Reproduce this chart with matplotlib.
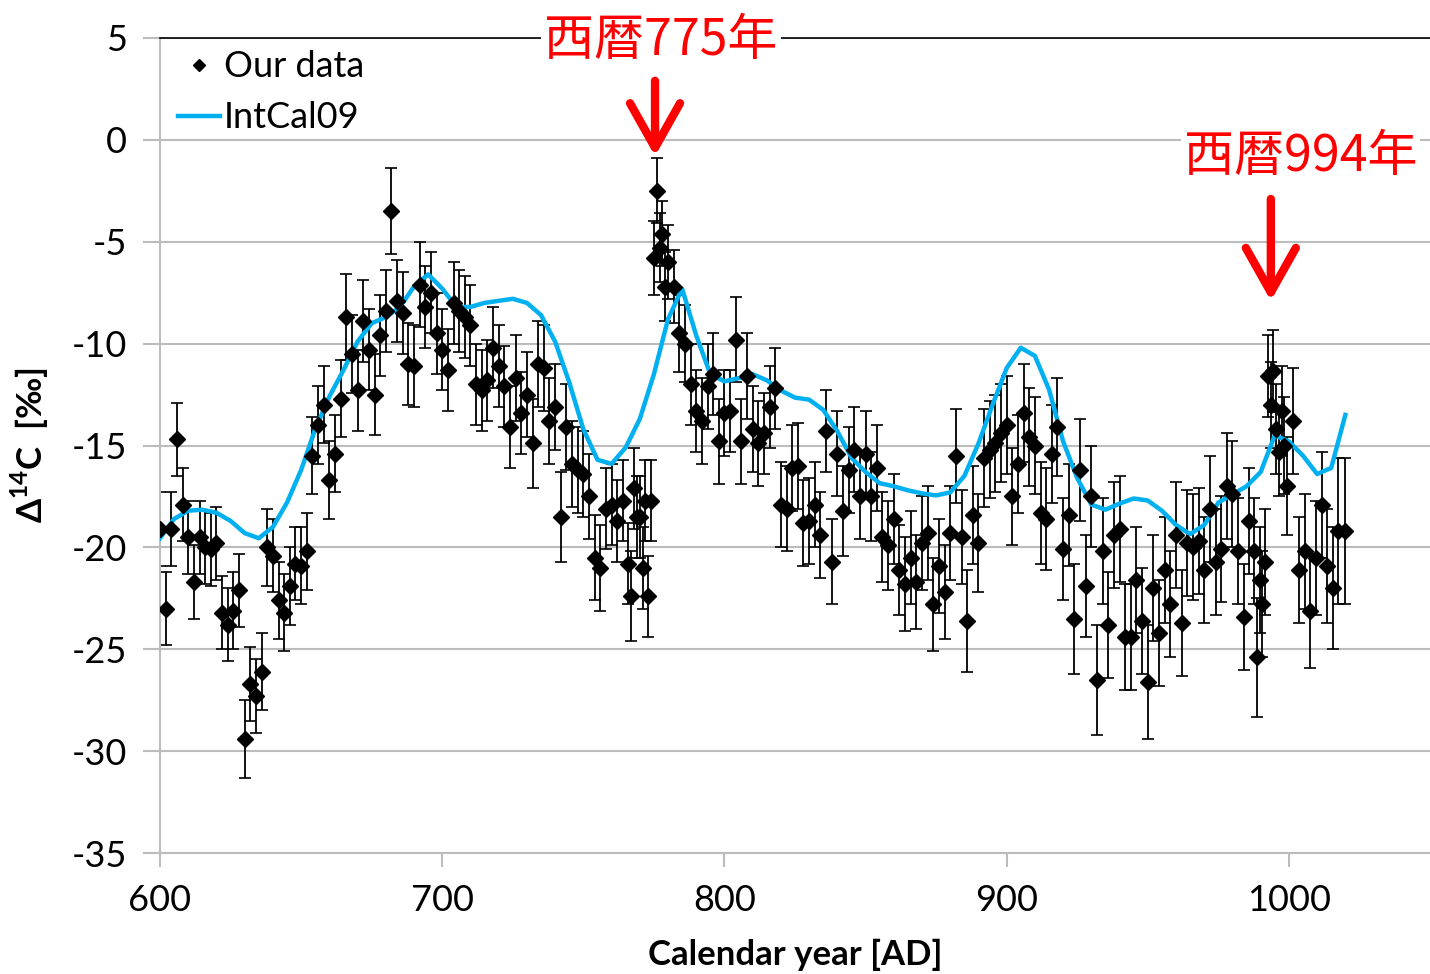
import matplotlib
matplotlib.use("Agg")
import matplotlib.pyplot as plt
from matplotlib.lines import Line2D

# Tree-ring D14C measurements (year AD, permil, 1-sigma)
years = [600, 602, 604, 606, 608, 610, 612, 614, 616, 618, 620, 622, 624, 626, 628,
         630, 632, 634, 636, 638, 640, 642, 644, 646, 648, 650, 652, 654, 656, 658,
         660, 662, 664, 666, 668, 670, 672, 674, 676, 678, 680, 682, 684, 686, 688,
         690, 692, 694, 696, 698, 700, 702, 704, 706, 708, 710, 712, 714, 716, 718,
         720, 722, 724, 726, 728, 730, 732, 734, 736, 738, 740, 742, 744, 746, 748,
         750, 752, 754, 756, 758, 760, 762, 764, 766, 767, 768, 769, 770, 771, 772,
         773, 774, 775, 776, 777, 778, 779, 780, 782, 784, 786, 788, 790, 792, 794,
         796, 798, 800, 802, 804, 806, 808, 810, 812, 814, 816, 818, 820, 822, 824,
         826, 828, 830, 832, 834, 836, 838, 840, 842, 844, 846, 848, 850, 852, 854,
         856, 858, 860, 862, 864, 866, 868, 870, 872, 874, 876, 878, 880, 882, 884,
         886, 888, 890, 892, 894, 896, 898, 900, 902, 904, 906, 908, 910, 912, 914,
         916, 918, 920, 922, 924, 926, 928, 930, 932, 934, 936, 938, 940, 942, 944,
         946, 948, 950, 952, 954, 956, 958, 960, 962, 964, 966, 968, 970, 972, 974,
         976, 978, 980, 982, 984, 986, 987.5, 988.8, 989.6, 990.5, 991.5, 992.6, 993.7, 994.4, 995.5,
         996.4, 997.7, 998.4, 999.4, 1001.6, 1003.5, 1005.6, 1007.4, 1009.5, 1011.7, 1013.5, 1015.7, 1017.5, 1019.8]
d14c = [-19.1, -23.0, -19.1, -14.7, -17.9, -19.5, -21.7, -19.5, -20.0, -20.1, -19.8, -23.2, -23.8, -23.1, -22.1,
        -29.4, -26.7, -27.3, -26.1, -20.0, -20.4, -22.6, -23.2, -21.9, -20.8, -20.9, -20.2, -15.5, -14.0, -13.0,
        -16.7, -15.4, -12.7, -8.7, -10.5, -12.3, -8.9, -10.3, -12.5, -9.6, -8.4, -3.5, -7.9, -8.5, -11.0,
        -11.1, -7.1, -8.2, -7.5, -9.5, -10.3, -11.3, -8.0, -8.4, -8.7, -9.1, -12.0, -12.3, -11.8, -10.2,
        -11.1, -12.1, -14.1, -11.7, -13.4, -12.5, -14.9, -11.0, -11.2, -13.8, -13.1, -18.5, -14.1, -15.9, -16.2,
        -16.4, -17.5, -20.5, -21.0, -18.1, -17.9, -18.7, -17.7, -20.8, -22.4, -17.1, -18.5, -18.5, -21.0, -17.7,
        -22.4, -17.7, -5.8, -2.5, -5.3, -4.6, -7.2, -6.0, -7.2, -9.5, -10.0, -12.0, -13.3, -13.8, -12.1,
        -11.5, -14.8, -13.4, -13.3, -9.8, -14.8, -11.6, -14.2, -14.9, -14.4, -13.1, -12.2, -17.9, -18.1, -16.1,
        -16.0, -18.8, -18.7, -17.9, -19.4, -14.3, -20.7, -15.4, -18.2, -16.2, -15.2, -17.5, -15.4, -17.5, -16.1,
        -19.5, -19.9, -18.6, -21.1, -21.8, -20.5, -21.7, -19.8, -19.3, -22.8, -20.9, -22.2, -19.3, -15.5, -19.5,
        -23.6, -18.4, -19.8, -15.6, -15.2, -14.9, -14.4, -14.0, -17.5, -15.9, -13.4, -14.6, -15.0, -18.3, -18.6,
        -15.4, -14.1, -20.1, -18.4, -23.5, -16.2, -21.9, -17.5, -26.5, -20.2, -23.8, -19.4, -19.1, -24.4, -24.4,
        -21.6, -23.6, -26.6, -22.0, -24.2, -21.1, -22.8, -19.4, -23.7, -19.8, -20.0, -19.7, -21.1, -18.1, -20.7,
        -20.1, -17.0, -17.4, -20.2, -23.4, -18.7, -20.2, -25.4, -21.6, -22.8, -20.7, -11.6, -13.0, -11.35, -14.2,
        -15.3, -13.3, -15.0, -17.0, -13.8, -21.1, -20.2, -23.1, -20.5, -17.9, -20.9, -22.0, -19.2, -19.2]
errs = [1.8, 1.8, 1.8, 1.8, 1.8, 1.8, 1.8, 1.8, 1.8, 1.8, 1.8, 1.8, 1.8, 1.9, 1.8,
        1.9, 1.8, 1.8, 1.9, 1.9, 1.8, 1.9, 1.9, 1.9, 1.8, 1.9, 1.9, 1.9, 1.9, 1.9,
        1.9, 1.9, 1.9, 2.1, 1.9, 2.0, 2.0, 2.0, 2.0, 2.0, 2.0, 2.1, 2.0, 2.0, 2.0,
        2.0, 2.1, 2.0, 2.0, 2.0, 2.0, 2.0, 2.0, 2.0, 2.0, 2.0, 2.0, 2.0, 2.0, 2.0,
        2.0, 2.0, 2.0, 2.1, 2.0, 2.1, 2.2, 2.1, 2.1, 2.1, 2.1, 2.2, 2.1, 2.1, 2.1,
        2.1, 2.1, 2.1, 2.1, 2.0, 2.0, 2.0, 2.0, 2.0, 2.2, 2.0, 2.0, 2.0, 2.0, 2.0,
        2.0, 2.0, 1.8, 1.6, 1.7, 1.6, 1.7, 1.8, 1.8, 1.9, 1.9, 2.0, 2.0, 2.1, 2.1,
        2.0, 2.1, 2.1, 2.0, 2.1, 2.1, 2.1, 2.1, 2.1, 2.0, 2.0, 2.0, 2.1, 2.1, 2.1,
        2.1, 2.1, 2.1, 2.1, 2.1, 2.0, 2.1, 2.1, 2.2, 2.1, 2.1, 2.1, 2.1, 2.2, 2.1,
        2.2, 2.2, 2.2, 2.2, 2.3, 2.3, 2.3, 2.3, 2.3, 2.3, 2.3, 2.3, 2.3, 2.3, 2.3,
        2.5, 2.4, 2.4, 2.4, 2.4, 2.4, 2.4, 2.4, 2.4, 2.4, 2.4, 2.4, 2.4, 2.5, 2.5,
        2.4, 2.4, 2.5, 2.5, 2.7, 2.5, 2.5, 2.5, 2.7, 2.6, 2.6, 2.6, 2.6, 2.6, 2.6,
        2.6, 2.6, 2.8, 2.6, 2.6, 2.6, 2.6, 2.6, 2.6, 2.6, 2.6, 2.6, 2.6, 2.6, 2.6,
        2.6, 2.6, 2.6, 2.6, 2.6, 2.6, 2.6, 2.9, 2.6, 2.6, 2.6, 2.0, 2.1, 2.0, 2.2,
        2.2, 2.2, 2.4, 2.4, 2.6, 2.6, 2.8, 2.8, 2.8, 2.6, 2.8, 3.0, 3.6, 3.6]

# IntCal09 curve (5-yr grid)
ic_years = list(range(600, 1021, 5))
ic_d14c = [-19.55, -18.6, -18.2, -18.15, -18.3, -18.7, -19.3, -19.55, -19.0, -17.8,
           -16.2, -14.2, -12.6, -11.3, -9.9, -9.0, -8.7, -8.2, -7.2, -6.6,
           -7.3, -8.2, -8.2, -8.0, -7.9, -7.8, -8.0, -8.6, -9.9, -11.9,
           -14.2, -15.7, -15.9, -15.1, -13.7, -11.5, -8.8, -7.3, -9.6, -11.5,
           -11.85, -11.7, -11.5, -11.8, -12.3, -12.65, -12.75, -13.25, -14.3, -15.6,
           -16.3, -16.85, -17.0, -17.2, -17.35, -17.45, -17.3, -16.5, -14.9, -13.0,
           -11.2, -10.2, -10.6, -12.25, -14.8, -16.6, -17.9, -18.15, -17.85, -17.6,
           -17.7, -18.2, -18.9, -19.35, -18.9, -17.8, -17.4, -17.0, -16.3, -14.5,
           -14.8, -15.5, -16.4, -16.1, -13.5]

events = [(775.4, '西暦775年', 777.5, 4.85, 2.9, -0.8),
          (993.6, '西暦994年', 1004.2, -0.85, -2.9, -7.9)]


def main():
  plt.rcParams['font.family'] = ['Lato', 'DejaVu Sans']
  plt.rcParams['axes.unicode_minus'] = False
  plt.rcParams['mathtext.fontset'] = 'custom'
  plt.rcParams['mathtext.rm'] = 'Lato'
  plt.rcParams['mathtext.bf'] = 'Lato:bold'
  fig = plt.figure(figsize=(14.3, 9.74), dpi=100)
  ax = fig.add_axes([0.1119, 0.1242, 0.8881, 0.8368])

  ax.errorbar(years, d14c, yerr=errs, fmt='none', ecolor='black', elinewidth=1.3,
              capsize=4.5, capthick=1.2, zorder=2)
  ax.plot(ic_years, ic_d14c, color='#00B0F0', lw=3.2, zorder=3)
  ax.plot(years, d14c, 'D', color='black', ms=8.5, zorder=4)

  ax.set_xlim(600, 1050)
  ax.set_ylim(-35, 5)
  ax.set_xticks([600, 700, 800, 900, 1000])
  ax.set_yticks(range(-35, 6, 5))
  ax.yaxis.grid(True, color='#bcbcbc', lw=1.5)
  ax.set_axisbelow(True)
  ax.tick_params(axis='both', labelsize=26, color='#bcbcbc', width=1.5, direction='out')
  ax.tick_params(axis='x', length=10, pad=12)
  ax.tick_params(axis='y', length=12, pad=12)

  for side in ['left', 'bottom']:
    ax.spines[side].set_color('#bcbcbc')
    ax.spines[side].set_linewidth(1.5)
  ax.spines['right'].set_visible(False)
  ax.spines['top'].set_color('black')
  ax.spines['top'].set_linewidth(1.2)

  ax.set_xlabel('Calendar year [AD]', fontsize=25, fontweight='bold', labelpad=16)
  ax.set_ylabel('Δ$^{\\mathbf{14}}$C  [‰]', fontsize=25, fontweight='bold')
  ax.yaxis.set_label_coords(-0.086, 0.5)

  handles = [Line2D([], [], marker='D', color='black', ls='none', ms=6),
             Line2D([], [], color='#00B0F0', lw=3.2)]
  ax.legend(handles, ['Our data', 'IntCal09'], loc='upper left', bbox_to_anchor=(0.0, 1.007),
            frameon=False, fontsize=26, handlelength=1.15, handletextpad=0.12,
            labelspacing=0.5, borderpad=0.2, borderaxespad=0.3)

  for x_arrow, label, x_text, y_text, y_start, y_tip in events:
    ax.text(x_text, y_text, label, ha='center', va='center', fontsize=36, color='red',
            family=['Noto Sans CJK JP'], clip_on=False, zorder=10,
            bbox=dict(facecolor='white', edgecolor='none', pad=2))
    ax.annotate('', xy=(x_arrow, y_tip), xytext=(x_arrow, y_start),
                arrowprops=dict(arrowstyle='->,head_length=0.8,head_width=0.45', color='red',
                                lw=6, mutation_scale=40, shrinkA=0, shrinkB=0),
                zorder=10, annotation_clip=False)

  fig.savefig('out.png', dpi=100)


if __name__ == '__main__':
  main()
